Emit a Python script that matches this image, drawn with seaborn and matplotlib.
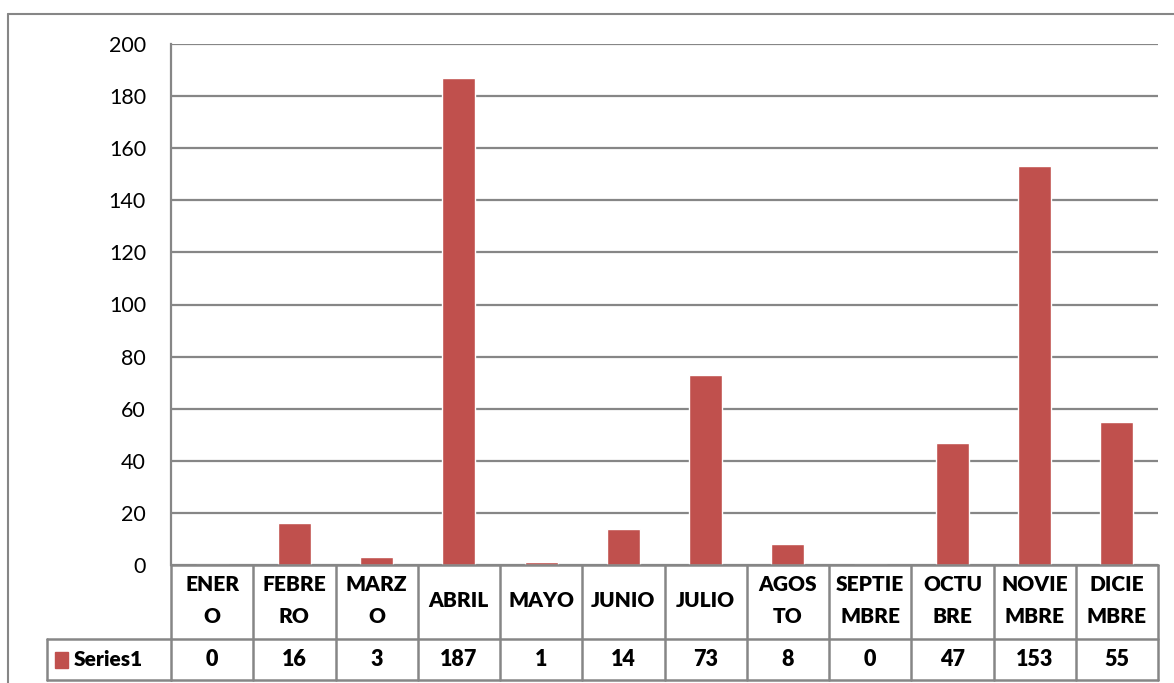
import matplotlib
matplotlib.use("Agg")
import matplotlib.pyplot as plt
import matplotlib.transforms as mtransforms
from matplotlib.lines import Line2D
from matplotlib.patches import Rectangle
import seaborn as sns
import pandas as pd

months = ["ENERO", "FEBRERO", "MARZO", "ABRIL", "MAYO", "JUNIO", "JULIO",
          "AGOSTO", "SEPTIEMBRE", "OCTUBRE", "NOVIEMBRE", "DICIEMBRE"]
header_labels = ["ENER\nO", "FEBRE\nRO", "MARZ\nO", "ABRIL", "MAYO", "JUNIO", "JULIO",
                 "AGOS\nTO", "SEPTIE\nMBRE", "OCTU\nBRE", "NOVIE\nMBRE", "DICIE\nMBRE"]
values = [0, 16, 3, 187, 1, 14, 73, 8, 0, 47, 153, 55]
series_name = "Series1"
yticks = [0, 20, 40, 60, 80, 100, 120, 140, 160, 180, 200]

BAR = "#C0504D"
GRID = "#868686"
W, H = 1174, 683

sns.set_theme(style="white")
plt.rcParams["font.family"] = ["Lato", "DejaVu Sans"]

fig = plt.figure(figsize=(W / 100, H / 100), dpi=100)
fig.patch.set_facecolor("white")

def fy(py):
    return 1 - py / H

def fx(px):
    return px / W

ax = fig.add_axes([fx(171), fy(565), fx(1158) - fx(171), fy(44) - fy(565)])
df = pd.DataFrame({"month": months, "value": values})
sns.barplot(data=df, x="month", y="value", color=BAR, saturation=1, width=0.4, ax=ax)
ax.set_xlim(-0.5, len(months) - 0.5)
ax.set_ylim(0, 200)
ax.set_yticks(yticks)
ax.set_yticklabels([str(t) for t in yticks], fontsize=15.5, color="black")
ax.tick_params(axis="y", length=0, pad=18)
ax.set_xticks([])
ax.set_xlabel("")
ax.set_ylabel("")
for t in yticks:
    ax.axhline(t, color=GRID, lw=1.6, zorder=0)
for side in ["top", "right", "bottom"]:
    ax.spines[side].set_visible(False)
ax.spines["left"].set_color(GRID)
ax.spines["left"].set_linewidth(1.6)

# data table below the axis, x in data coords, y in figure coords
tr = mtransforms.blended_transform_factory(ax.transData, fig.transFigure)
lc = GRID
lw = 1.8
top, mid, bot = fy(565), fy(639), fy(680)
n = len(months)
for yy in (top, mid, bot):
    ax.add_line(Line2D([-0.5, n - 0.5], [yy, yy], transform=tr, color=lc, lw=lw, clip_on=False))
for i in range(n + 1):
    ax.add_line(Line2D([i - 0.5, i - 0.5], [bot, top], transform=tr, color=lc, lw=lw, clip_on=False))
# series label cell
fig.add_artist(Line2D([fx(47), fx(171)], [mid, mid], color=lc, lw=lw))
fig.add_artist(Line2D([fx(47), fx(171)], [bot, bot], color=lc, lw=lw))
fig.add_artist(Line2D([fx(47), fx(47)], [bot, mid], color=lc, lw=lw))
fig.add_artist(Rectangle((fx(55), fy(668)), fx(13), fy(652) - fy(668), color=BAR, transform=fig.transFigure))
fig.text(fx(74), (mid + bot) / 2, series_name, ha="left", va="center",
         fontsize=15, fontweight="heavy", color="black")

for i, (lab, v) in enumerate(zip(header_labels, values)):
    ax.text(i, (top + mid) / 2 + 0.002, lab, transform=tr, ha="center", va="center",
            fontsize=15, fontweight="heavy", color="black", linespacing=1.85, clip_on=False)
    ax.text(i, (mid + bot) / 2, str(v), transform=tr, ha="center", va="center",
            fontsize=15.5, fontweight="heavy", color="black", clip_on=False)

# outer chart border
fig.add_artist(Line2D([fx(8), fx(8)], [0, fy(14)], color=GRID, lw=1.5))
fig.add_artist(Line2D([fx(8), 1], [fy(14), fy(14)], color=GRID, lw=1.5))

fig.savefig("out.png", dpi=100, facecolor="white")
